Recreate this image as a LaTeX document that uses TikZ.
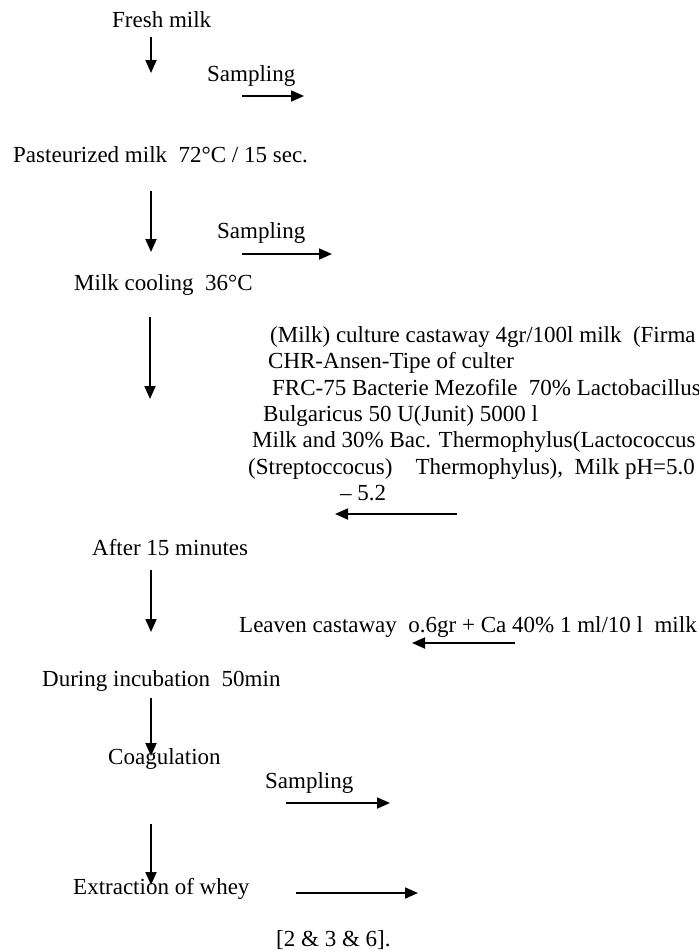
\documentclass[tikz,border=0pt]{standalone}
\usepackage{fontspec}
\setmainfont{Liberation Serif}
\usetikzlibrary{arrows.meta}

\begin{document}
\begin{tikzpicture}[x=1pt,y=-1pt,>={Triangle[length=13pt,width=11pt]},
		flow/.style={line width=1.8pt,->},
		lbl/.style={anchor=base west,inner sep=0pt,font=\fontsize{23}{26.3}\selectfont}]
		
		% Page frame (keeps the margins)
		\useasboundingbox (0,0) rectangle (699,951);
		
		% Steps of the process
		\node[lbl] (fresh) at (112,27) {Fresh milk};
		\node[lbl] (samp1) at (207,81) {Sampling};
		\node[lbl] (past) at (13,162) {Pasteurized milk~~72°C / 15 sec.};
		\node[lbl] (samp2) at (217,238) {Sampling};
		\node[lbl] (cool) at (74,290) {Milk cooling~~36°C};
		\node[lbl] (after) at (92,555) {After 15 minutes};
		\node[lbl] (leaven) at (239,632) {Leaven castaway~~o.6gr + Ca 40\% 1 ml/10 l~~milk};
		\node[lbl] (incub) at (42,686) {During incubation~~50min};
		\node[lbl] (coag) at (108,764) {Coagulation};
		\node[lbl] (samp3) at (265,788) {Sampling};
		\node[lbl] (whey) at (73,894) {Extraction of whey};
		\node[lbl] (refs) at (276,946) {[2 \& 3 \& 6].};
		
		% Culture added after cooling
		\node[lbl] (cult1) at (270,342.5) {(Milk) culture castaway 4gr/100l milk~~(Firma};
		\node[lbl] (cult2) at (268,368.8) {CHR-Ansen-Tipe of culter};
		\node[lbl] (cult3) at (272,395.1) {FRC-75 Bacterie Mezofile~~70\% Lactobacillus};
		\node[lbl] (cult4) at (263,421.4) {Bulgaricus 50 U(Junit) 5000 l};
		\node[lbl] (cult5) at (252,447.7) {Milk and 30\% Bac. Thermophylus(Lactococcus};
		\node[lbl] (cult6) at (248,474) {(Streptoccocus)~~~~Thermophylus),~~Milk pH=5.0};
		\node[lbl] (cult7) at (340,500.3) {– 5.2};
		
		% Arrow ends
		\coordinate (d1a) at (151,37);  \coordinate (d1b) at (151,73);
		\coordinate (r1a) at (242,96);  \coordinate (r1b) at (304,96);
		\coordinate (d2a) at (151,191); \coordinate (d2b) at (151,252);
		\coordinate (r2a) at (242,254); \coordinate (r2b) at (332,254);
		\coordinate (d3a) at (150,317); \coordinate (d3b) at (150,399);
		\coordinate (l1a) at (457,514); \coordinate (l1b) at (335,514);
		\coordinate (d4a) at (151,570); \coordinate (d4b) at (151,632);
		\coordinate (l2a) at (515,643); \coordinate (l2b) at (412,643);
		\coordinate (d5a) at (151,698); \coordinate (d5b) at (151,756);
		\coordinate (r3a) at (286,803); \coordinate (r3b) at (390,803);
		\coordinate (d6a) at (151,824); \coordinate (d6b) at (151,885);
		\coordinate (r4a) at (296,893); \coordinate (r4b) at (418,893);
		
		% Downward flow
		\draw[flow] (d1a) -- (d1b);
		\draw[flow] (d2a) -- (d2b);
		\draw[flow] (d3a) -- (d3b);
		\draw[flow] (d4a) -- (d4b);
		\draw[flow] (d5a) -- (d5b);
		\draw[flow] (d6a) -- (d6b);
		
		% Side arrows (sampling out, additions in)
		\draw[flow] (r1a) -- (r1b);
		\draw[flow] (r2a) -- (r2b);
		\draw[flow] (l1a) -- (l1b);
		\draw[flow] (l2a) -- (l2b);
		\draw[flow] (r3a) -- (r3b);
		\draw[flow] (r4a) -- (r4b);
		
	\end{tikzpicture}
\end{document}
